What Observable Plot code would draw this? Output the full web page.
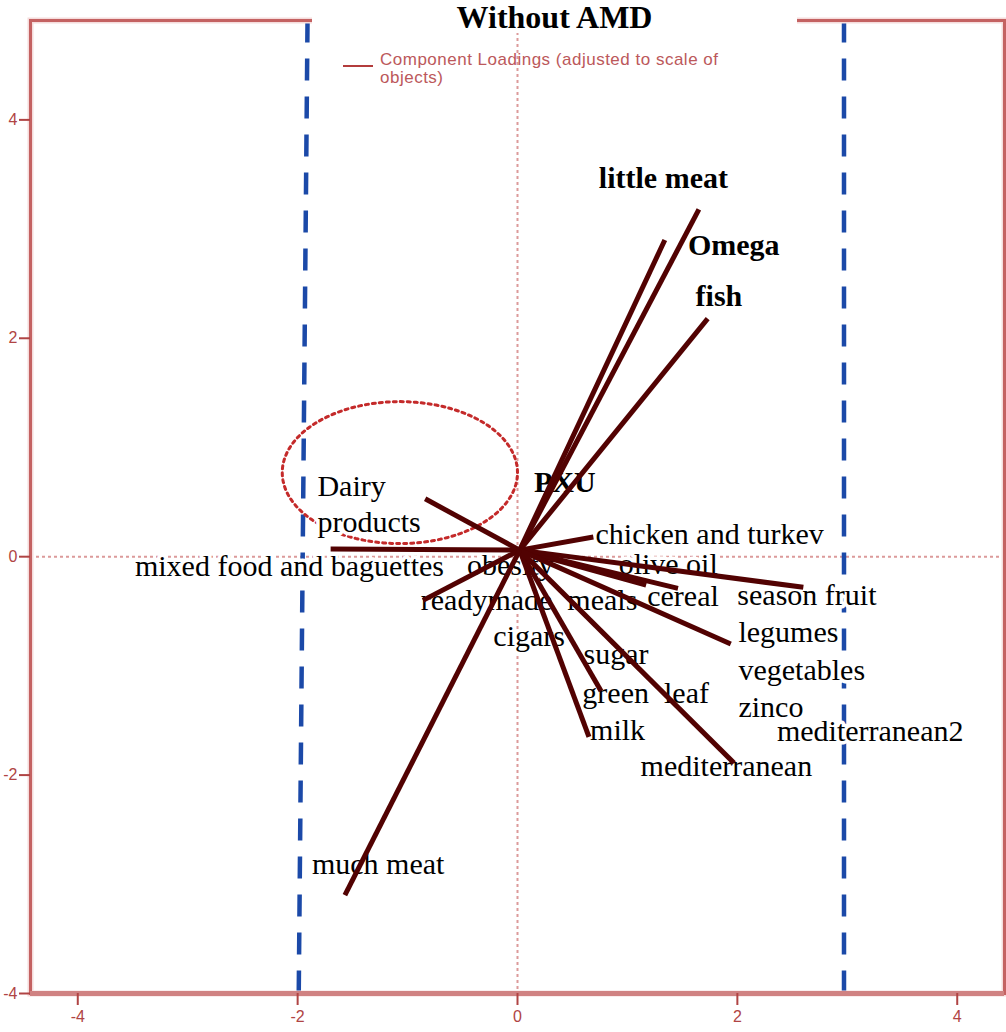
<!DOCTYPE html>
<html>
<head>
<meta charset="utf-8">
<script src="https://cdn.jsdelivr.net/npm/d3@7"></script>
<script src="https://cdn.jsdelivr.net/npm/@observablehq/plot@0.6"></script>
<style>
  html, body { margin: 0; padding: 0; background: #fff; }
  #chart { position: relative; width: 1006px; height: 1032px; overflow: hidden; }
  #chart svg { position: absolute; left: 0; top: 0; }
  .title {
    position: absolute; left: 312px; top: 1px; width: 485px; height: 32px;
    background: #fff; text-align: center; color: #000;
    font: bold 32px/32px "Liberation Serif", "Times New Roman", serif;
  }
  .legend-line { position: absolute; left: 343px; top: 65px; width: 30px; height: 2px; background: #b33c3c; }
  .legend-text {
    position: absolute; left: 380px; top: 51px; color: #b5474a; opacity: 0.9;
    font: 17px/18px "Liberation Sans", Arial, sans-serif; letter-spacing: 0.5px;
  }
</style>
</head>
<body>
<div id="chart"></div>
<script>
// Food-frequency variables shown in the biplot
const variables = [
  "little meat", "Omega", "fish", "Dairy\nproducts", "PXU",
  "chicken and turkev", "olive oil", "mixed food and baguettes", "obesity",
  "readymade\u00a0\u00a0meals", "cereal", "season fruit", "cigars", "legumes",
  "sugar", "vegetables", "green\u00a0\u00a0leaf", "zinco", "milk",
  "mediterranean2", "mediterranean", "much meat"
];

// Component loading vectors (dimension 1, dimension 2); null = no vector drawn
const vectorX = [1.65, 1.34, 1.73, -0.84, null, 0.69, 1.17, -1.70, null, -0.86, 1.46, 2.60, null, 1.94, null, null, 0.76, null, 0.65, null, 1.97, -1.57];
const vectorY = [3.18, 2.90, 2.18, 0.53, null, 0.18, -0.26, 0.07, null, -0.40, -0.29, -0.28, null, -0.80, null, null, -1.23, null, -1.65, null, -1.89, -3.10];

// Label anchor points (left edge, middle of line) in plot units
const labelX = [0.74, 1.55, 1.62, -1.82, 0.15, 0.71, 0.92, -3.48, -0.46, -0.88, 1.18, 2.00, -0.22, 2.01, 0.60, 2.01, 0.59, 2.01, 0.66, 2.36, 1.12, -1.87];
const labelY = [3.48, 2.87, 2.40, 0.50, 0.70, 0.22, -0.05, -0.07, -0.06, -0.38, -0.35, -0.34, -0.71, -0.68, -0.88, -1.02, -1.23, -1.36, -1.57, -1.58, -1.90, -2.80];

const boldLabels = ["little meat", "Omega", "fish", "PXU"];

// Common origin of the loading vectors
const loadingOrigin = [0.02, 0.06];

// Cut-off lines (x at the top and at the bottom of the panel)
const cutoffTopX = [-1.91, 2.97];
const cutoffBottomX = [-1.99, 2.97];

// Dairy cluster outline
const clusterCenter = [-1.07, 0.77];
const clusterRadii = [1.07, 0.65];

const xTicks = [-4, -2, 0, 2, 4];
const yTicks = [-4, -2, 0, 2, 4];
const xDomain = [-4.43, 4.43];
const yDomain = [-4, 4.91];

const rows = variables.map((name, i) => ({
  name, vx: vectorX[i], vy: vectorY[i], lx: labelX[i], ly: labelY[i],
  bold: boldLabels.includes(name)
}));
const vectors = rows.filter(d => d.vx != null);
const plainRows = rows.filter(d => !d.bold);
const boldRows = rows.filter(d => d.bold);

const cutoffs = cutoffTopX.map((xt, i) => ({xt, xb: cutoffBottomX[i]}));

const ellipse = d3.range(0, 361, 2).map(a => {
  const t = a * Math.PI / 180;
  return {x: clusterCenter[0] + clusterRadii[0] * Math.cos(t), y: clusterCenter[1] + clusterRadii[1] * Math.sin(t)};
});

const serif = "Liberation Serif, Times New Roman, serif";
const axisColor = "#b04444";

// labels sit on a white backing so guide lines disappear behind them
const labelText = {
  x: "lx", y: "ly", text: "name", textAnchor: "start", lineAnchor: "middle",
  fontSize: 30, fontFamily: serif, lineHeight: 1.2,
  fill: "#000", stroke: "#fff", strokeWidth: 7, strokeLinejoin: "round", paintOrder: "stroke"
};

const plot = Plot.plot({
  width: 1006,
  height: 1032,
  marginLeft: 30,
  marginRight: 2,
  marginTop: 20,
  marginBottom: 39,
  x: {domain: xDomain},
  y: {domain: yDomain},
  style: {background: "#fff", fontFamily: "Liberation Sans, Arial, sans-serif"},
  marks: [
    // reference cross at the origin
    Plot.ruleX([0], {stroke: "#dc9a9a", strokeWidth: 2, strokeDasharray: "3,3"}),
    Plot.ruleY([0], {stroke: "#dc9a9a", strokeWidth: 2, strokeDasharray: "3,3"}),
    // cut-off lines
    Plot.link(cutoffs, {
      x1: "xt", y1: () => yDomain[1], x2: "xb", y2: () => yDomain[0],
      stroke: "#1b49a8", strokeWidth: 4.5, strokeDasharray: "22,16"
    }),
    // dairy cluster
    Plot.line(ellipse, {x: "x", y: "y", stroke: "#c42a2a", strokeWidth: 3, strokeDasharray: "3,4"}),
    // variable labels
    Plot.text(plainRows, labelText),
    Plot.text(boldRows, {...labelText, fontWeight: "bold"}),
    // loading vectors
    Plot.link(vectors, {
      x1: () => loadingOrigin[0], y1: () => loadingOrigin[1], x2: "vx", y2: "vy",
      stroke: "#520202", strokeWidth: 5
    }),
    // panel frame
    Plot.frame({stroke: "#f5dcdc", strokeWidth: 6}),
    Plot.frame({stroke: "#c46262", strokeWidth: 3}),
    Plot.ruleY([yDomain[0]], {stroke: "#d08282", strokeWidth: 5}),
    Plot.axisX({
      ticks: xTicks, anchor: "bottom", tickSize: 12, tickPadding: 5,
      tickFormat: d => String(d), fontSize: 16, color: axisColor, strokeWidth: 2, label: null
    }),
    Plot.axisY({
      ticks: yTicks, anchor: "left", tickSize: 11, tickPadding: 2,
      tickFormat: d => String(d), fontSize: 16, color: axisColor, strokeWidth: 2, label: null
    })
  ]
});

const chart = document.getElementById("chart");
chart.appendChild(plot);

const title = document.createElement("div");
title.className = "title";
title.textContent = "Without AMD";
chart.appendChild(title);

const legendLine = document.createElement("div");
legendLine.className = "legend-line";
chart.appendChild(legendLine);

const legendText = document.createElement("div");
legendText.className = "legend-text";
legendText.innerHTML = "Component Loadings (adjusted to scale of<br>objects)";
chart.appendChild(legendText);
</script>
</body>
</html>
